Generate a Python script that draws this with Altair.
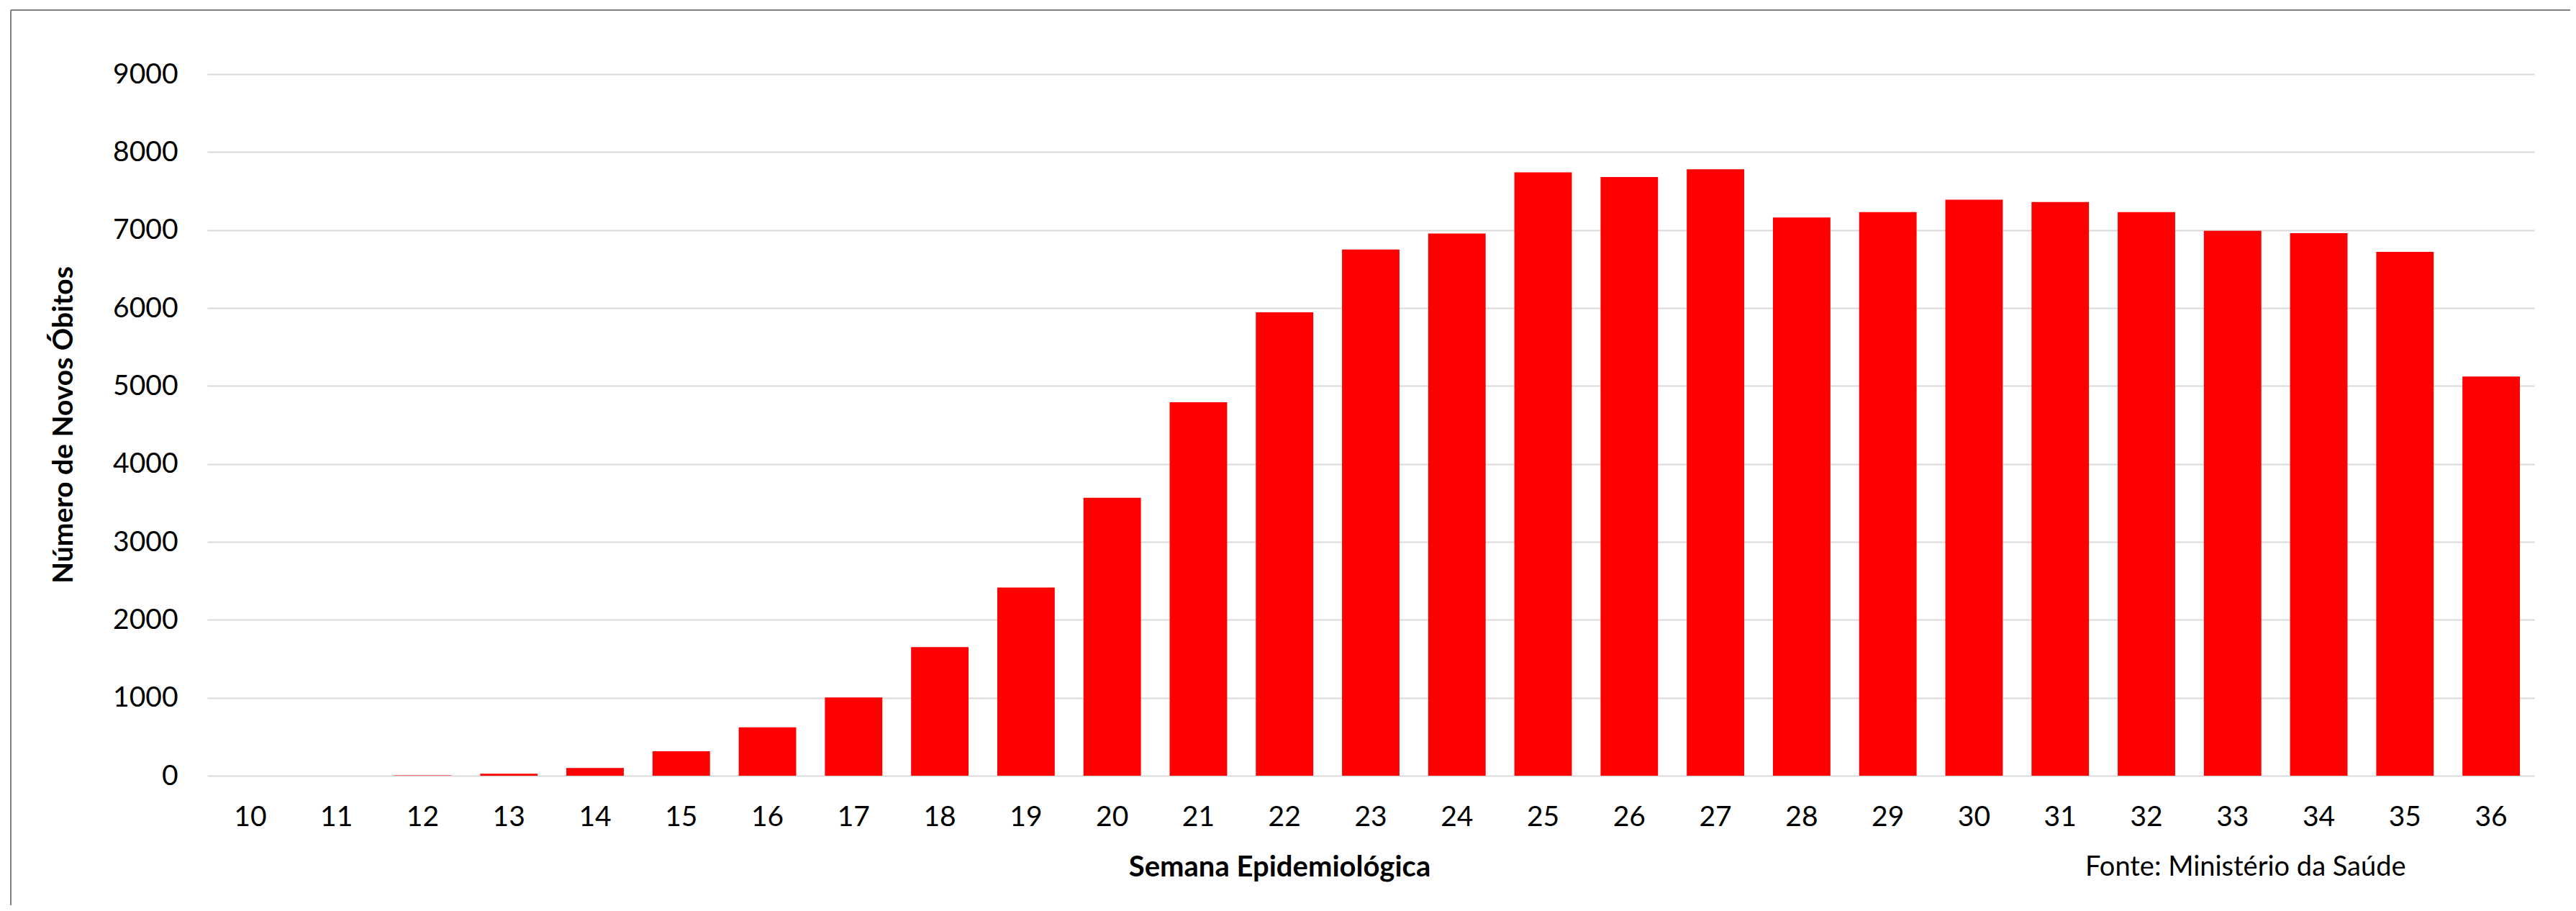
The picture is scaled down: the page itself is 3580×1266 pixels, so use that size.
import altair as alt
import pandas as pd

weeks = ["10", "11", "12", "13", "14", "15", "16", "17", "18", "19", "20", "21", "22",
         "23", "24", "25", "26", "27", "28", "29", "30", "31", "32", "33", "34", "35", "36"]
deaths = [0, 0, 5, 25, 100, 315, 620, 1005, 1650, 2415, 3565, 4790, 5945,
          6750, 6955, 7740, 7680, 7780, 7160, 7230, 7390, 7360, 7230, 6990, 6960, 6720, 5120]
y_ticks = [0, 1000, 2000, 3000, 4000, 5000, 6000, 7000, 8000, 9000]
x_title = "Semana Epidemiológica"
y_title = "Número de Novos Óbitos"
source = "Fonte: Ministério da Saúde"

FONT = "Lato"
df = pd.DataFrame({"week": weeks, "deaths": deaths})

bars = alt.Chart(df).mark_bar(color="#FF0000").encode(
    x=alt.X(
        "week:O",
        sort=weeks,
        scale=alt.Scale(paddingInner=1 / 3, paddingOuter=1 / 6),
        axis=alt.Axis(
            title=x_title,
            labelAngle=0,
            ticks=False,
            domain=False,
            labelPadding=38,
            labelFont=FONT,
            labelFontSize=39,
            labelColor="#000000",
            titleFont=FONT,
            titleFontSize=40,
            titleFontWeight="bold",
            titleColor="#000000",
            titleX=1490,
            titleY=139,
            titleBaseline="alphabetic",
            titleAlign="center",
        ),
    ),
    y=alt.Y(
        "deaths:Q",
        scale=alt.Scale(domain=[0, 9000], nice=False),
        axis=alt.Axis(
            values=y_ticks,
            format="d",
            title=y_title,
            grid=True,
            gridColor="#D9D9D9",
            gridWidth=2,
            ticks=False,
            domain=False,
            labelPadding=41,
            labelFont=FONT,
            labelFontSize=39,
            labelColor="#000000",
            titleFont=FONT,
            titleFontSize=39,
            titleFontWeight="bold",
            titleColor="#000000",
            titleX=-200,
            titleY=487,
            titleBaseline="middle",
            titleAlign="center",
        ),
    ),
)

note = alt.Chart(pd.DataFrame({"t": [source]})).mark_text(
    align="left", baseline="alphabetic", font=FONT, fontSize=38, color="#000000"
).encode(text="t:N", x=alt.value(2610), y=alt.value(1114))

frame_left = alt.Chart(pd.DataFrame({"a": [0]})).mark_rule(
    color="#7F7F7F", strokeWidth=2
).encode(x=alt.value(-273), y=alt.value(-89), y2=alt.value(1160))

frame_top = alt.Chart(pd.DataFrame({"a": [0]})).mark_rule(
    color="#7F7F7F", strokeWidth=2
).encode(x=alt.value(-273), x2=alt.value(3300), y=alt.value(-89))

chart = alt.layer(bars, note, frame_left, frame_top).properties(
    width=3234,
    height=975,
    autosize=alt.AutoSizeParams(type="none"),
    padding={"left": 280, "top": 95, "right": 50, "bottom": 180},
    background="#FFFFFF",
).configure_view(stroke=None)

chart.save("out.html", embed_options={"renderer": "svg", "actions": False})
